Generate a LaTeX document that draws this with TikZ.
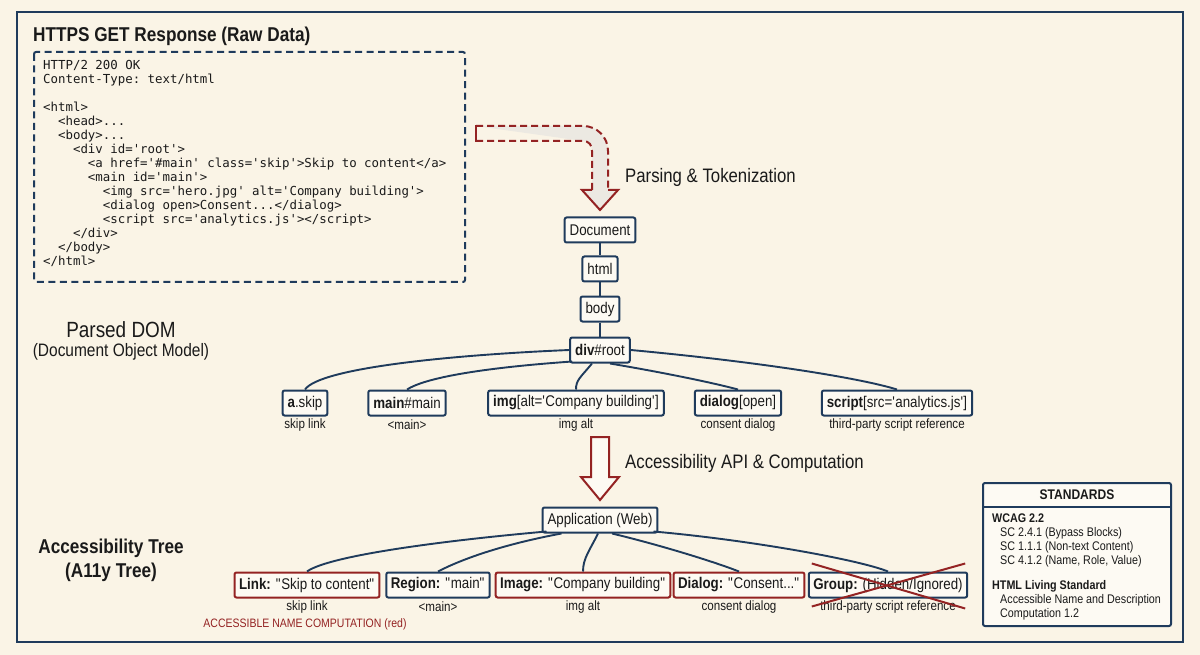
\documentclass[tikz,border=0pt]{standalone}
\usepackage{fontspec}
\setmainfont{Liberation Sans}[FakeStretch=0.86]
\setmonofont{DejaVu Sans Mono}
\usetikzlibrary{calc}
\definecolor{navy}{HTML}{1F3B5C}
\definecolor{darkred}{HTML}{942323}
\definecolor{paper}{HTML}{FAF4E6}
\definecolor{boxfill}{HTML}{FDFAF3}
\definecolor{ink}{HTML}{1A1A1A}
\definecolor{shadegrey}{HTML}{ECE9E2}
\begin{document}
\begin{tikzpicture}[x=1pt,y=-1pt,text=ink,
    domnode/.style={shape=rectangle,draw=navy,line width=2pt,rounded corners=2pt,fill=boxfill,
      minimum height=25pt,inner xsep=5pt,inner ysep=0pt,font=\fontsize{15.5}{17}\selectfont},
    a11yred/.style={domnode,draw=darkred,inner xsep=4.5pt},
    sublabel/.style={font=\fontsize{13.5}{15}\selectfont},
    treeline/.style={draw=navy,line width=1.9pt}]
        \useasboundingbox (0,0) rectangle (1200,655);
        \fill[paper] (0,0) rectangle (1200,655);
        \draw[navy,line width=2.5pt] (17,12) rectangle (1183,642);

        % raw response
        \node[anchor=west,inner sep=0pt,font=\bfseries\fontsize{20}{24}\selectfont] (raw-title) at (33,36) {HTTPS GET Response (Raw Data)};
        \draw[navy,line width=2pt,dash pattern=on 7pt off 4.5pt,rounded corners=2pt] (34,52) rectangle (465,282);
        \node[anchor=north west,inner sep=0pt,align=left,font=\ttfamily\fontsize{12.4}{14}\selectfont] (raw-code) at (43,60) {HTTP/2 200 OK\\
Content-Type: text/html\\[14pt]
<html>\\
\phantom{xx}<head>...\\
\phantom{xx}<body>...\\
\phantom{xxxx}<div id='root'>\\
\phantom{xxxxxx}<a href='\#main' class='skip'>Skip to content</a>\\
\phantom{xxxxxx}<main id='main'>\\
\phantom{xxxxxxxx}<img src='hero.jpg' alt='Company building'>\\
\phantom{xxxxxxxx}<dialog open>Consent...</dialog>\\
\phantom{xxxxxxxx}<script src='analytics.js'></script>\\
\phantom{xxxx}</div>\\
\phantom{xx}</body>\\
</html>};

        % parsing arrow
        \fill[shadegrey] (476,126) -- (583,126) .. controls (597,126) and (608,137) .. (608,151) -- (608,190)
          -- (618,190) -- (600,210) -- (582,190) -- (592,190) -- (592,151) .. controls (592,145) and (589,141) .. (583,141) -- cycle;
        \draw[darkred,line width=2pt,dash pattern=on 7pt off 4pt] (476,126) -- (583,126) .. controls (597,126) and (608,137) .. (608,151) -- (608,190);
        \draw[darkred,line width=2pt,dash pattern=on 7pt off 4pt] (592,190) -- (592,151) .. controls (592,145) and (589,141) .. (583,141) -- (476,141);
        \draw[darkred,line width=2pt] (608,190) -- (618,190) -- (600,210) -- (582,190) -- (592,190);
        \draw[darkred,line width=2pt] (476,125) -- (476,142);
        \node[anchor=west,inner sep=0pt,font=\fontsize{19.5}{22}\selectfont] (parse-label) at (625,177) {Parsing \& Tokenization};

        % DOM
        \node[font=\fontsize{22}{24}\selectfont] (dom-title) at (121,330) {Parsed DOM};
        \node[font=\fontsize{18}{20}\selectfont] (dom-subtitle) at (121,352) {(Document Object Model)};
        \node[domnode] (dom-doc) at (600,230) {Document};
        \node[domnode] (dom-html) at (600,269) {html};
        \node[domnode] (dom-body) at (600,309) {body};
        \node[domnode] (dom-root) at (600,350) {\textbf{div}\#root};
        \node[domnode] (dom-a) at (305,403) {\textbf{a}.skip};
        \node[domnode] (dom-main) at (407,403) {\textbf{main}\#main};
        \node[domnode] (dom-img) at (576,403) {\textbf{img}[alt=\textquotesingle Company building\textquotesingle]};
        \node[domnode] (dom-dialog) at (738,403) {\textbf{dialog}[open]};
        \node[domnode] (dom-script) at (897,403) {\textbf{script}[src=\textquotesingle analytics.js\textquotesingle]};
        \node[sublabel] (lbl-a) at (305,425) {skip link};
        \node[sublabel] (lbl-main) at (407,425) {<main>};
        \node[sublabel] (lbl-img) at (576,425) {img alt};
        \node[sublabel] (lbl-dialog) at (738,425) {consent dialog};
        \node[sublabel] (lbl-script) at (897,425) {third-party script reference};

        \path[treeline]
        (dom-doc) edge (dom-html)
        (dom-html) edge (dom-body)
        (dom-body) edge (dom-root)
        ;
        \draw[treeline] (dom-root.west) .. controls (450,355) and (320,368) .. (dom-a.north);
        \draw[treeline] ($(dom-root.south west)+(3,-2)$) .. controls (480,368) and (425,378) .. (dom-main.north);
        \draw[treeline] ($(dom-root.south)+(-8,0)$) .. controls (580,378) and (576,380) .. (dom-img.north);
        \draw[treeline] ($(dom-root.south)+(10,0)$) .. controls (660,372) and (710,382) .. (dom-dialog.north);
        \draw[treeline] (dom-root.east) .. controls (760,362) and (860,378) .. (dom-script.north);

        % accessibility api arrow
        \draw[darkred,line width=2pt,fill=boxfill] (591,437) -- (609,437) -- (609,477) -- (619,477) -- (600,500) -- (581,477) -- (591,477) -- cycle;
        \node[anchor=west,inner sep=0pt,font=\fontsize{19.5}{22}\selectfont] (api-label) at (625,463) {Accessibility API \& Computation};

        % a11y tree
        \node[font=\bfseries\fontsize{20}{22}\selectfont] (a11y-title) at (111,548) {Accessibility Tree};
        \node[font=\bfseries\fontsize{20}{22}\selectfont] (a11y-subtitle) at (111,572) {(A11y Tree)};
        \node[domnode] (a11y-app) at (600,520) {Application (Web)};
        \node[a11yred] (a11y-link) at (307,585) {\textbf{Link:} \textquotedbl Skip to content\textquotedbl};
        \node[domnode,inner xsep=4.5pt] (a11y-region) at (438,585) {\textbf{Region:} \textquotedbl main\textquotedbl};
        \node[a11yred] (a11y-image) at (583,585) {\textbf{Image:} \textquotedbl Company building\textquotedbl};
        \node[a11yred] (a11y-dialog) at (739,585) {\textbf{Dialog:} \textquotedbl Consent...\textquotedbl};
        \node[domnode,inner xsep=4.5pt] (a11y-group) at (888,585) {\textbf{Group:} (Hidden/Ignored)};
        \node[sublabel] (lbl-link) at (307,607) {skip link};
        \node[sublabel] (lbl-region) at (438,607) {<main>};
        \node[sublabel] (lbl-image) at (583,607) {img alt};
        \node[sublabel] (lbl-consent) at (739,607) {consent dialog};
        \node[sublabel] (lbl-group) at (888,607) {third-party script reference};
        \node[font=\fontsize{12.2}{14}\selectfont,text=darkred] (lbl-red) at (305,624) {ACCESSIBLE NAME COMPUTATION (red)};

        \draw[treeline] ($(a11y-app.south west)+(5,-2)$) .. controls (450,540) and (330,555) .. (a11y-link.north);
        \draw[treeline] ($(a11y-app.south west)+(20,0)$) .. controls (500,545) and (460,560) .. (a11y-region.north);
        \draw[treeline] ($(a11y-app.south)+(-2,0)$) .. controls (590,550) and (583,558) .. (a11y-image.north);
        \draw[treeline] ($(a11y-app.south)+(12,0)$) .. controls (660,545) and (715,562) .. (a11y-dialog.north);
        \draw[treeline] ($(a11y-app.south east)+(-5,-2)$) .. controls (750,540) and (860,560) .. (a11y-group.north);
        \draw[darkred,line width=2pt] ($(a11y-group.north west)+(4,-8)$) -- ($(a11y-group.south east)+(-3,10)$);
        \draw[darkred,line width=2pt] ($(a11y-group.south west)+(4,8)$) -- ($(a11y-group.north east)+(-3,-8)$);

        % standards
        \node[draw=navy,line width=2pt,rounded corners=2pt,fill=boxfill,minimum width=188pt,minimum height=143pt] (std-box) at (1077,554.5) {};
        \node[font=\bfseries\fontsize{14}{16}\selectfont] (std-head) at (1077,495) {STANDARDS};
        \draw[navy,line width=2pt] ($(std-box.north west)+(0,25)$) -- ($(std-box.north east)+(0,25)$);
        \node[anchor=north west,inner sep=0pt,align=left,font=\fontsize{12.5}{14}\selectfont] (std-text) at (992,514) {\textbf{WCAG 2.2}\\
\hspace*{8pt}SC 2.4.1 (Bypass Blocks)\\
\hspace*{8pt}SC 1.1.1 (Non-text Content)\\
\hspace*{8pt}SC 4.1.2 (Name, Role, Value)\\[11pt]
\textbf{HTML Living Standard}\\
\hspace*{8pt}Accessible Name and Description\\
\hspace*{8pt}Computation 1.2};
\end{tikzpicture}
\end{document}
